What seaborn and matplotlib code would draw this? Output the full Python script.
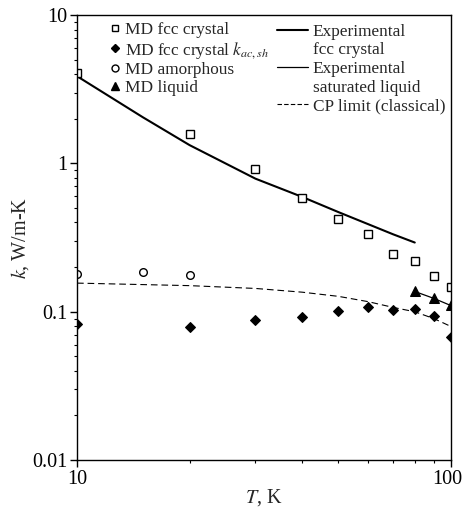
import numpy as np
import pandas as pd
import seaborn as sns
import matplotlib
matplotlib.use('Agg')
import matplotlib.pyplot as plt
import matplotlib.transforms as mtransforms
from matplotlib.lines import Line2D
from matplotlib.ticker import FixedLocator, FuncFormatter, LogLocator, NullFormatter

# MD fcc crystal (open squares)
t_fcc = [10, 20, 30, 40, 50, 60, 70, 80, 90, 100]
k_fcc = [4.08, 1.59, 0.915, 0.583, 0.421, 0.332, 0.247, 0.219, 0.174, 0.146]

# MD fcc crystal k_ac,sh (diamonds)
t_acsh = [10, 20, 30, 40, 50, 60, 70, 80, 90, 100]
k_acsh = [0.0829, 0.0787, 0.0877, 0.092, 0.1005, 0.107, 0.103, 0.105, 0.0938, 0.0671]

# MD amorphous (open circles)
t_amor = [10, 15, 20]
k_amor = [0.179, 0.184, 0.176]

# MD liquid (triangles)
t_liq = [80, 90, 100]
k_liq = [0.138, 0.124, 0.111]

# experimental fcc crystal
t_exp_fcc = [10, 15, 20, 30, 40, 50, 60, 70, 80]
k_exp_fcc = [3.88, 2.05, 1.33, 0.79, 0.595, 0.47, 0.39, 0.333, 0.293]

# experimental saturated liquid
t_exp_liq = [80, 90, 100]
k_exp_liq = [0.137, 0.123, 0.110]

# CP limit (classical)
t_cp = [10, 20, 30, 40, 50, 60, 70, 80, 90, 100]
k_cp = [0.156, 0.150, 0.1436, 0.1355, 0.127, 0.117, 0.107, 0.100, 0.0899, 0.0795]

sns.set_style('ticks')
plt.rcParams['font.family'] = ['Liberation Serif', 'DejaVu Serif']
plt.rcParams['mathtext.fontset'] = 'stix'

fig = plt.figure(figsize=(4.64, 5.08), dpi=100)
ax = fig.add_axes([0.166, 0.0945, 0.806, 0.8755])

sns.lineplot(x=t_exp_fcc, y=k_exp_fcc, color='black', lw=1.5, ax=ax)
sns.lineplot(x=t_exp_liq, y=k_exp_liq, color='black', lw=0.9, ax=ax)
sns.lineplot(x=t_cp, y=k_cp, color='black', lw=0.8, dashes=(6, 3.5), ax=ax)

sns.lineplot(x=t_fcc, y=k_fcc, marker='s', ms=5.5, mfc='white', mec='black',
             mew=1.0, linestyle='', ax=ax)
sns.lineplot(x=t_acsh, y=k_acsh, marker='D', ms=5, mfc='black', mec='black',
             linestyle='', ax=ax)
sns.lineplot(x=t_amor, y=k_amor, marker='o', ms=5.5, mfc='white', mec='black',
             mew=1.0, linestyle='', ax=ax)
sns.lineplot(x=t_liq, y=k_liq, marker='^', ms=7, mfc='black', mec='black',
             linestyle='', ax=ax)

ax.set_xscale('log')
ax.set_yscale('log')
ax.set_xlim(10, 100)
ax.set_ylim(0.01, 10)

fmt = FuncFormatter(lambda v, p: '%g' % v)
ax.xaxis.set_major_locator(FixedLocator([10, 100]))
ax.xaxis.set_major_formatter(fmt)
ax.xaxis.set_minor_locator(LogLocator(base=10, subs=np.arange(2, 10)))
ax.xaxis.set_minor_formatter(NullFormatter())
ax.yaxis.set_major_locator(FixedLocator([0.01, 0.1, 1, 10]))
ax.yaxis.set_major_formatter(fmt)
ax.yaxis.set_minor_locator(LogLocator(base=10, subs=np.arange(2, 10)))
ax.yaxis.set_minor_formatter(NullFormatter())

ax.tick_params(which='major', direction='out', length=5, width=1.0, labelsize=14.5,
               color='black', labelcolor='black', pad=2)
ax.tick_params(which='minor', direction='out', length=2.5, width=0.8, color='black')
for s in ax.spines.values():
    s.set_color('black')
    s.set_linewidth(1.0)

# nudge the "100" label left so it stays inside the figure
ticks = ax.xaxis.get_major_ticks()
shift = mtransforms.ScaledTranslation(-4 / 100, 0, fig.dpi_scale_trans)
ticks[-1].label1.set_transform(ticks[-1].label1.get_transform() + shift)

ax.set_xlabel('$T$, K', fontsize=14.5, labelpad=-1)
ax.set_ylabel('$k$, W/m-K', fontsize=14.5, labelpad=1)

blank = Line2D([], [], linestyle='', marker='')
left_handles = [
    Line2D([], [], linestyle='', marker='s', ms=5, mfc='white', mec='black', mew=1.0),
    Line2D([], [], linestyle='', marker='D', ms=4.5, mfc='black', mec='black'),
    Line2D([], [], linestyle='', marker='o', ms=5, mfc='white', mec='black', mew=1.0),
    Line2D([], [], linestyle='', marker='^', ms=6, mfc='black', mec='black'),
]
left_labels = ['MD fcc crystal', r'MD fcc crystal $k_{ac,sh}$', 'MD amorphous', 'MD liquid']
right_handles = [
    Line2D([], [], color='black', lw=1.5),
    blank,
    Line2D([], [], color='black', lw=0.9),
    blank,
    Line2D([], [], color='black', lw=0.8, dashes=(4, 2)),
]
right_labels = ['Experimental', 'fcc crystal', 'Experimental', 'saturated liquid',
                'CP limit (classical)']

leg1 = ax.legend(left_handles, left_labels, frameon=False, fontsize=12.4,
                 loc='upper left', bbox_to_anchor=(0.088, 0.984), handlelength=0.6,
                 handletextpad=0.3, labelspacing=0.08, borderaxespad=0, borderpad=0)
ax.add_artist(leg1)
ax.legend(right_handles, right_labels, frameon=False, fontsize=12.4,
          loc='upper left', bbox_to_anchor=(0.535, 0.981), handlelength=1.77,
          handletextpad=0.3, labelspacing=0.15, borderaxespad=0, borderpad=0)

fig.savefig('out.png', dpi=100)
